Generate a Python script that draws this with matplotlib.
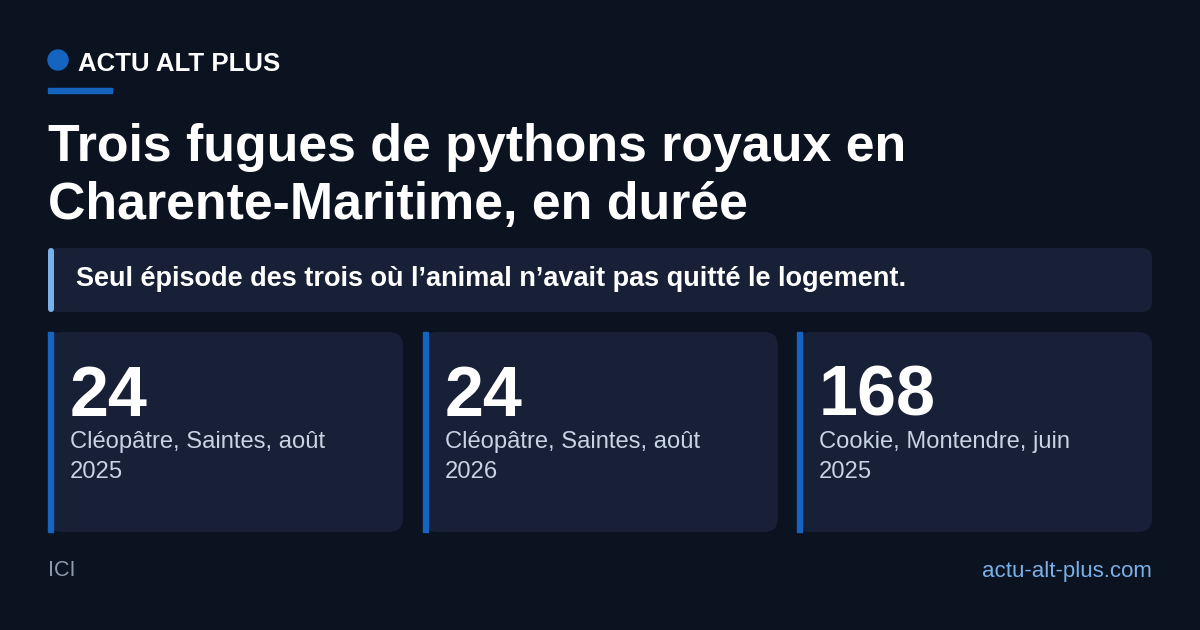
import matplotlib
matplotlib.use("Agg")
import matplotlib.pyplot as plt
from matplotlib.patches import FancyBboxPatch, Rectangle, Circle

brand = "ACTU ALT PLUS"
title_lines = ["Trois fugues de pythons royaux en", "Charente-Maritime, en durée"]
subtitle = "Seul épisode des trois où l’animal n’avait pas quitté le logement."
values = ["24", "24", "168"]
labels = [["Cléopâtre, Saintes, août", "2025"],
          ["Cléopâtre, Saintes, août", "2026"],
          ["Cookie, Montendre, juin", "2025"]]
source = "ICI"
site = "actu-alt-plus.com"

BG = "#0b1220"; CARD = "#172036"; BLUE = "#1565c0"; LIGHT = "#7ab0e8"
plt.rcParams['font.family'] = ['Liberation Sans', 'DejaVu Sans']

fig = plt.figure(figsize=(12, 6.3), dpi=100, facecolor=BG)
ax = fig.add_axes([0, 0, 1, 1])
ax.set_xlim(0, 1200); ax.set_ylim(630, 0); ax.axis("off")
ax.set_facecolor(BG)

ax.add_patch(Circle((58, 60), 10, color=BLUE))
ax.text(78, 64, brand, color="white", fontsize=18.6, fontweight="bold", va="center")
ax.add_patch(Rectangle((48, 88), 64, 5, color=BLUE))

for i, line in enumerate(title_lines):
    ax.text(48, 161 + i * 58, line, color="white", fontsize=37.4, fontweight="bold", va="baseline")

ax.add_patch(FancyBboxPatch((48, 248), 1104, 64, boxstyle="round,pad=0,rounding_size=10",
                            fc=CARD, ec="none"))
ax.add_patch(FancyBboxPatch((48, 248), 6, 64, boxstyle="round,pad=0,rounding_size=3",
                            fc=LIGHT, ec="none"))
ax.text(76, 279, subtitle, color="white", fontsize=19.5, fontweight="bold", va="center")

xs = [48, 423, 797]
w = 355
for x, v, lab in zip(xs, values, labels):
    ax.add_patch(FancyBboxPatch((x, 332), w, 200, boxstyle="round,pad=0,rounding_size=14",
                                fc=CARD, ec="none"))
    ax.add_patch(Rectangle((x, 332), 5, 200, color=BLUE))
    ax.text(x + 22, 416, v, color="white", fontsize=50.5, fontweight="bold", va="baseline")
    for j, l in enumerate(lab):
        ax.text(x + 22, 448 + j * 30, l, color="#c8d3e3", fontsize=17.1, va="baseline")

ax.text(48, 571, source, color="#8a9ab0", fontsize=15.5, va="center")
ax.text(1152, 571, site, color=LIGHT, fontsize=16, va="center", ha="right")

fig.savefig("out.png", dpi=100, facecolor=BG)
